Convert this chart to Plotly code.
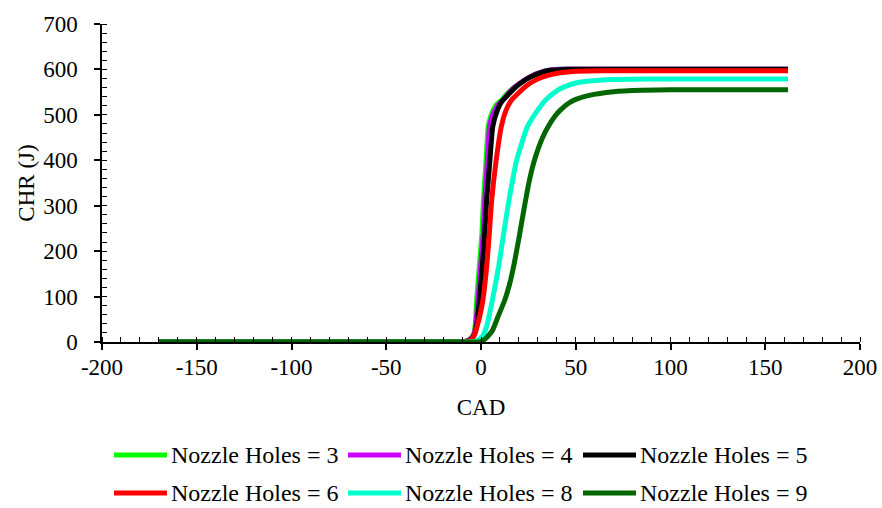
import plotly.graph_objects as go

# Cumulative heat release (J) vs crank angle (deg) for several nozzle-hole counts
cad_3 = [-170, -15, -8, -6, -5, -4, -3, -2.3, -0.9, 0.5, 1.3, 2.7, 3.8, 5, 6.5, 8, 11, 14, 18, 22, 26, 31, 36.5, 45, 60, 162]
chr_3 = [0, 0, 2, 6, 10, 16, 40, 92, 166, 240, 313, 400, 474, 495, 511, 522, 533, 548, 562, 574, 584, 593, 599, 601, 601, 601]

cad_4 = [-170, -15, -8, -6, -5, -4, -3, -1.6, -0.2, 1.2, 2.0, 3.4, 4.5, 6, 7.5, 9, 12, 15, 18, 22, 26, 31, 36.5, 45, 60, 162]
chr_4 = [0, 0, 2, 5, 9, 14, 30, 92, 166, 240, 313, 400, 474, 498, 511, 522, 534, 550, 562, 574, 584, 593, 599, 601, 601, 601]

cad_5 = [-170, -15, -8, -6, -5, -4, -3, -2, -0.8, 0.7, 2.0, 3.0, 4.7, 6.2, 8.7, 11, 15, 18, 22, 26, 31, 36.5, 45, 60, 162]
chr_5 = [0, 0, 1, 4, 7, 12, 22, 45, 92, 166, 240, 313, 400, 474, 511, 530, 547, 560, 573, 583, 592, 598, 600, 600, 600]

cad_6 = [-170, -15, -8, -6, -5, -3.5, -2, -0.5, 1, 3, 4.4, 5.6, 8, 10.7, 13.3, 16, 19.5, 24, 29, 34, 39.6, 50, 65, 162]
chr_6 = [0, 0, 1, 3, 6, 16, 35, 60, 92, 166, 240, 310, 400, 474, 511, 532, 547, 564, 577, 585, 591, 596, 597, 597]

cad_8 = [-170, -15, -6, -3, -1, 1, 3, 6, 9.3, 12, 14.8, 18.8, 24.5, 30, 34, 38, 42, 46, 50, 56, 70, 90, 162]
chr_8 = [0, 0, 0, 2, 6, 14, 35, 92, 166, 240, 313, 400, 474, 511, 532, 547, 558, 565, 570, 574, 578, 579, 579]

cad_9 = [-170, -15, -2, 1, 3, 6, 9, 12.5, 15, 17.4, 20.2, 23, 25.5, 28.2, 32.5, 36, 39, 42, 46, 50, 57, 70, 85, 100, 162]
chr_9 = [0, 0, 0, 3, 10, 25, 56, 92, 126, 170, 233, 300, 355, 400, 450, 478, 497, 511, 525, 534, 543, 551, 554, 555, 555]

names = ["Nozzle Holes = 3", "Nozzle Holes = 4", "Nozzle Holes = 5",
         "Nozzle Holes = 6", "Nozzle Holes = 8", "Nozzle Holes = 9"]
colors = ["#00FF00", "#CC00FF", "#000000", "#FF0000", "#00FFCC", "#006600"]
series = [(cad_3, chr_3), (cad_4, chr_4), (cad_5, chr_5),
          (cad_6, chr_6), (cad_8, chr_8), (cad_9, chr_9)]

x_ticks = [-200, -150, -100, -50, 0, 50, 100, 150, 200]
y_ticks = [0, 100, 200, 300, 400, 500, 600, 700]

W, H = 882, 508
ML, MR, MT, MB = 102, 22, 24, 166
PW, PH = W - ML - MR, H - MT - MB
FONT = "Liberation Serif"
FS = 23
LEG_FS = 24

fig = go.Figure()
for (xs, ys), name, col in zip(series, names, colors):
    fig.add_trace(go.Scatter(x=xs, y=ys, mode="lines", name=name,
                             line=dict(color=col, width=5, shape="spline", smoothing=0.5),
                             showlegend=False))

axis_common = dict(showgrid=False, zeroline=False, showline=True, automargin=False,
                   linecolor="black", linewidth=1.5, tickcolor="black",
                   tickwidth=1.5, tickfont=dict(family=FONT, size=FS, color="black"))

fig.update_layout(
    width=W, height=H,
    margin=dict(l=ML, r=MR, t=MT, b=MB),
    paper_bgcolor="white", plot_bgcolor="white",
    font=dict(family=FONT, size=FS, color="black"),
    xaxis=dict(range=[-200, 200], tickvals=x_ticks, ticktext=[str(v) for v in x_ticks],
               ticks="outside", ticklen=6, ticklabelstandoff=-2,
               minor=dict(dtick=10, tick0=0, ticks="inside", ticklen=5,
                          tickcolor="black", tickwidth=1.2),
               title=dict(text="CAD", standoff=20, font=dict(family=FONT, size=FS)),
               **axis_common),
    yaxis=dict(range=[0, 700], tickvals=y_ticks, ticktext=[str(v) for v in y_ticks],
               ticks="outside", ticklen=6, ticklabelstandoff=12,
               minor=dict(dtick=20, tick0=0, ticks="inside", ticklen=5,
                          tickcolor="black", tickwidth=1.2),
               title=dict(text="CHR (J)", standoff=2, font=dict(family=FONT, size=FS)),
               **axis_common),
    # inner half of the crossing major ticks
    xaxis2=dict(overlaying="x", anchor="y", side="bottom", range=[-200, 200],
                tickvals=x_ticks, ticks="inside", ticklen=6, tickwidth=1.5,
                tickcolor="black", showticklabels=False, showline=False,
                showgrid=False, zeroline=False, automargin=False),
    yaxis2=dict(overlaying="y", anchor="x", side="left", range=[0, 700],
                tickvals=y_ticks, ticks="inside", ticklen=6, tickwidth=1.5,
                tickcolor="black", showticklabels=False, showline=False,
                showgrid=False, zeroline=False, automargin=False),
)

# Legend: two rows of three entries below the plot
def px_to_paper_x(px):
    return (px - ML) / PW

def px_to_paper_y(py):
    return (H - MB - py) / PH

row_y = [455, 493]
col_x0 = [112, 346, 581]
for i, (name, col) in enumerate(zip(names, colors)):
    r, c = divmod(i, 3)
    x0 = col_x0[c]
    y = px_to_paper_y(row_y[r])
    fig.add_shape(type="line", xref="paper", yref="paper",
                  x0=px_to_paper_x(x0 + 2), x1=px_to_paper_x(x0 + 55), y0=y, y1=y,
                  line=dict(color=col, width=5))
    fig.add_annotation(xref="paper", yref="paper", x=px_to_paper_x(x0 + 57), y=y,
                       xanchor="left", yanchor="middle", showarrow=False,
                       text=name, font=dict(family=FONT, size=LEG_FS, color="black"))

fig.write_html("out.html")
